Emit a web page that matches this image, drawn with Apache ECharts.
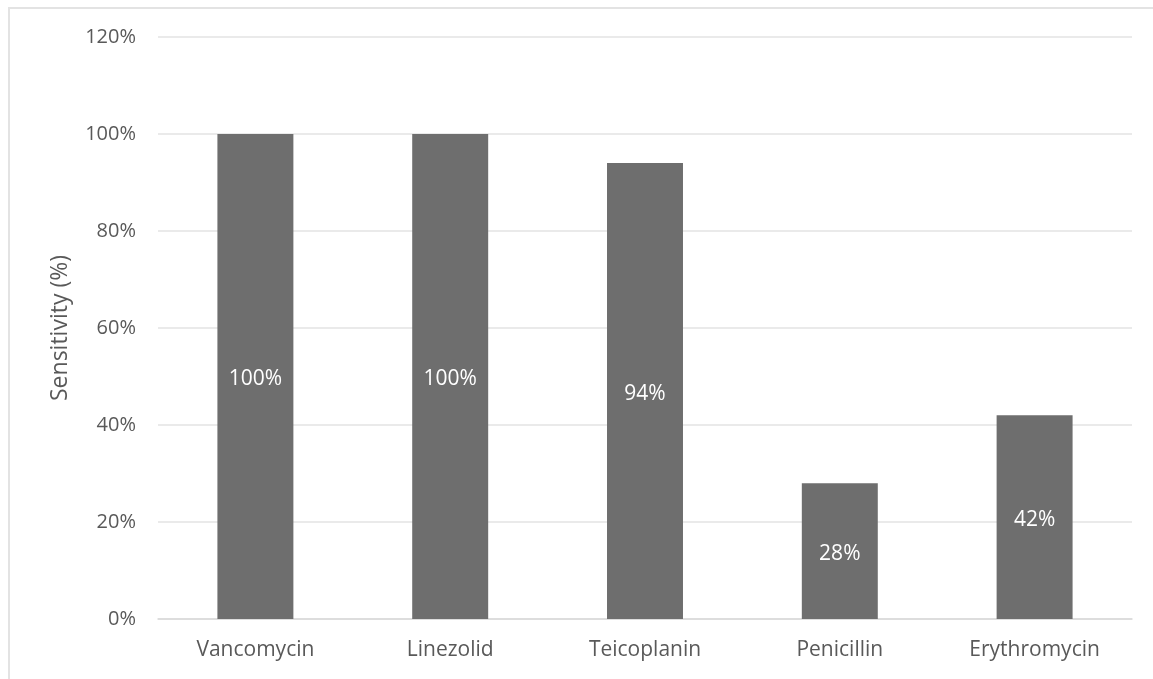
<!DOCTYPE html>
<html>
<head>
<meta charset="utf-8">
<script src="https://cdn.jsdelivr.net/npm/echarts@6/dist/echarts.min.js"></script>
<style>
  html, body { margin: 0; padding: 0; background: #ffffff; }
  #frame { position: absolute; left: 8px; top: 7px; width: 1160px; height: 680px;
           border-left: 2px solid #e3e3e3; border-top: 2px solid #e3e3e3; box-sizing: border-box; }
  #chart { position: absolute; left: 0; top: 0; width: 1153px; height: 679px; }
</style>
</head>
<body>
<div id="frame"></div>
<div id="chart"></div>
<script>
// Antibiotic sensitivity, percent of isolates
const categories = ['Vancomycin', 'Linezolid', 'Teicoplanin', 'Penicillin', 'Erythromycin'];
const sensitivity = [100, 100, 94, 28, 42];
const yTicks = [0, 20, 40, 60, 80, 100, 120];

const font = '"Open Sans", "Liberation Sans", sans-serif';
const chart = echarts.init(document.getElementById('chart'), null, { renderer: 'canvas' });

chart.setOption({
  animation: false,
  backgroundColor: 'transparent',
  grid: { left: 158, right: 21, top: 37, bottom: 60, containLabel: false },
  xAxis: {
    type: 'category',
    data: categories,
    axisLine: { show: true, lineStyle: { color: '#d9d9d9', width: 1.5 } },
    axisTick: { show: false },
    axisLabel: { color: '#595959', fontSize: 21, fontFamily: font, margin: 21 }
  },
  yAxis: {
    type: 'value',
    min: yTicks[0],
    max: yTicks[yTicks.length - 1],
    interval: yTicks[1] - yTicks[0],
    name: 'Sensitivity (%)',
    nameLocation: 'middle',
    nameRotate: 90,
    nameGap: 86,
    nameTextStyle: { color: '#595959', fontSize: 23, fontFamily: font },
    axisLine: { show: false },
    axisTick: { show: false },
    splitLine: { lineStyle: { color: '#e3e3e3', width: 1.5 } },
    axisLabel: { color: '#595959', fontSize: 20, fontFamily: font, margin: 22,
                 formatter: v => v + '%' }
  },
  series: [{
    type: 'bar',
    data: sensitivity,
    barWidth: '39%',
    itemStyle: { color: '#6e6e6e' },
    label: {
      show: true,
      position: 'inside',
      offset: [0, 3],
      color: '#ffffff',
      fontSize: 21,
      fontFamily: font,
      formatter: p => p.value + '%'
    }
  }]
});
</script>
</body>
</html>
